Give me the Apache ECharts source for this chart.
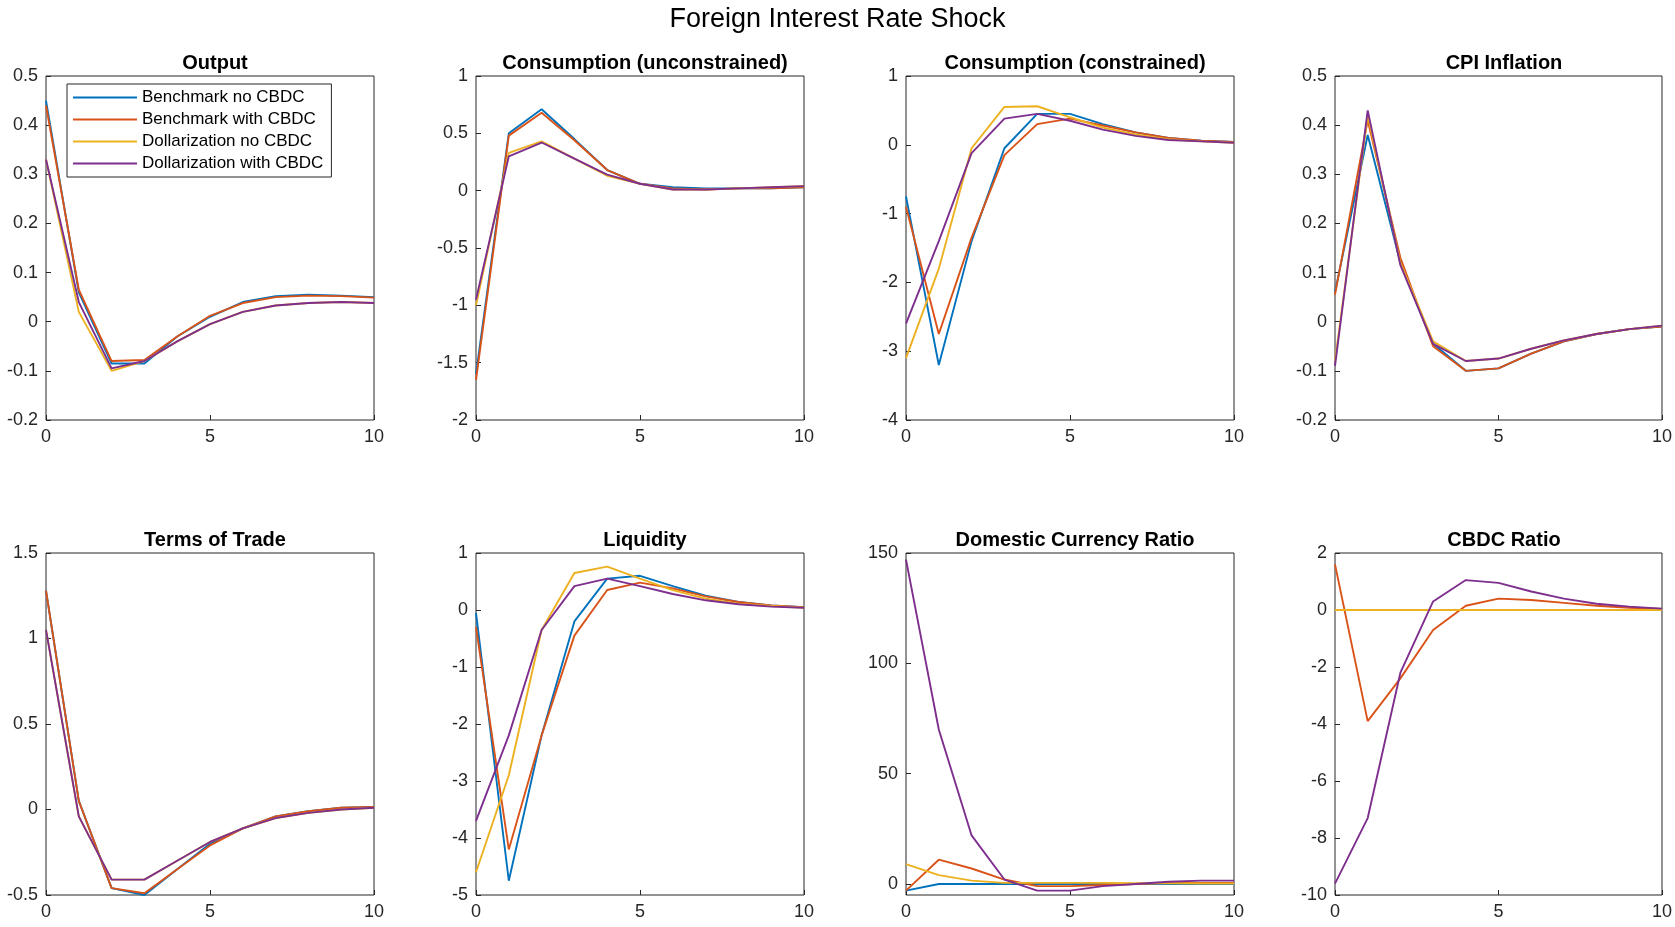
<!DOCTYPE html>
<html><head><meta charset="utf-8">
<script src="https://cdn.jsdelivr.net/npm/echarts@6/dist/echarts.min.js"></script>
<style>html,body{margin:0;background:#fff}#c{width:1675px;height:927px}</style>
</head><body><div id="c"></div>
<script>
const periods = [0,1,2,3,4,5,6,7,8,9,10];
const seriesNames = ["Benchmark no CBDC","Benchmark with CBDC","Dollarization no CBDC","Dollarization with CBDC"];
const colors = ["#0072BD","#D95319","#EDB120","#7E2F8E"];

const outputBN = [0.45,0.06,-0.085,-0.085,-0.03,0.01,0.04,0.052,0.055,0.053,0.05];
const outputBW = [0.44,0.065,-0.08,-0.078,-0.03,0.012,0.038,0.05,0.053,0.052,0.049];
const outputDN = [0.33,0.02,-0.1,-0.08,-0.04,-0.005,0.02,0.033,0.038,0.04,0.038];
const outputDW = [0.33,0.04,-0.095,-0.08,-0.04,-0.005,0.02,0.033,0.038,0.04,0.038];

const consUBN = [-1.6,0.5,0.71,0.45,0.18,0.06,0.03,0.02,0.02,0.02,0.03];
const consUBW = [-1.65,0.48,0.68,0.44,0.18,0.06,0.02,0.01,0.02,0.02,0.03];
const consUDN = [-1.0,0.33,0.43,0.28,0.13,0.06,0.01,0.01,0.02,0.03,0.04];
const consUDW = [-0.95,0.3,0.42,0.28,0.14,0.06,0.01,0.01,0.02,0.03,0.04];

const consCBN = [-0.75,-3.2,-1.4,-0.05,0.45,0.45,0.3,0.18,0.1,0.06,0.04];
const consCBW = [-0.9,-2.75,-1.35,-0.15,0.3,0.38,0.28,0.18,0.1,0.06,0.04];
const consCDN = [-3.1,-1.8,-0.05,0.55,0.56,0.4,0.25,0.15,0.08,0.05,0.03];
const consCDW = [-2.6,-1.4,-0.12,0.38,0.45,0.35,0.22,0.13,0.07,0.05,0.03];

const cpiBN = [0.06,0.38,0.12,-0.045,-0.1,-0.095,-0.065,-0.04,-0.025,-0.015,-0.01];
const cpiBW = [0.055,0.41,0.13,-0.05,-0.1,-0.095,-0.065,-0.04,-0.025,-0.015,-0.01];
const cpiDN = [-0.08,0.42,0.12,-0.04,-0.08,-0.075,-0.055,-0.038,-0.025,-0.015,-0.008];
const cpiDW = [-0.09,0.43,0.115,-0.045,-0.08,-0.075,-0.055,-0.038,-0.025,-0.015,-0.008];

const totBN = [1.28,0.05,-0.46,-0.5,-0.35,-0.2,-0.11,-0.04,-0.01,0.01,0.015];
const totBW = [1.28,0.05,-0.46,-0.49,-0.35,-0.21,-0.11,-0.04,-0.01,0.01,0.015];
const totDN = [1.05,-0.04,-0.41,-0.41,-0.3,-0.19,-0.11,-0.05,-0.02,0.0,0.01];
const totDW = [1.05,-0.04,-0.41,-0.41,-0.3,-0.19,-0.11,-0.05,-0.02,0.0,0.01];

const liqBN = [-0.05,-4.75,-2.2,-0.2,0.55,0.6,0.42,0.25,0.14,0.08,0.05];
const liqBW = [-0.3,-4.2,-2.2,-0.45,0.35,0.48,0.38,0.24,0.14,0.08,0.05];
const liqDN = [-4.6,-2.9,-0.35,0.65,0.76,0.55,0.35,0.2,0.11,0.07,0.04];
const liqDW = [-3.7,-2.2,-0.35,0.42,0.55,0.42,0.28,0.17,0.1,0.06,0.04];

const dcrBN = [-3,0,0,0,0,0,0,0,0,0,0];
const dcrBW = [-3,11,7,2,-1,-1,-0.5,0,0.5,0.5,0.5];
const dcrDN = [9,4,1.5,0.5,0.5,0.5,0.5,0.3,0.3,0.2,0.2];
const dcrDW = [147,70,22,2,-3,-3,-1,0,1,1.5,1.5];

const cbdcBN = [0,0,0,0,0,0,0,0,0,0,0];
const cbdcBW = [1.6,-3.9,-2.4,-0.7,0.15,0.4,0.35,0.25,0.15,0.08,0.04];
const cbdcDN = [0,0,0,0,0,0,0,0,0,0,0];
const cbdcDW = [-9.6,-7.3,-2.2,0.3,1.05,0.95,0.65,0.4,0.22,0.12,0.05];

const panels = [
  {title:"Output", min:-0.2, max:0.5, interval:0.1, data:[outputBN,outputBW,outputDN,outputDW]},
  {title:"Consumption (unconstrained)", min:-2, max:1, interval:0.5, data:[consUBN,consUBW,consUDN,consUDW]},
  {title:"Consumption (constrained)", min:-4, max:1, interval:1, data:[consCBN,consCBW,consCDN,consCDW]},
  {title:"CPI Inflation", min:-0.2, max:0.5, interval:0.1, data:[cpiBN,cpiBW,cpiDN,cpiDW]},
  {title:"Terms of Trade", min:-0.5, max:1.5, interval:0.5, data:[totBN,totBW,totDN,totDW]},
  {title:"Liquidity", min:-5, max:1, interval:1, data:[liqBN,liqBW,liqDN,liqDW]},
  {title:"Domestic Currency Ratio", min:-5, max:150, custom:[0,50,100,150], data:[dcrBN,dcrBW,dcrDN,dcrDW]},
  {title:"CBDC Ratio", min:-10, max:2, interval:2, data:[cbdcBN,cbdcBW,cbdcDN,cbdcDW]}
];

const lefts = [46,476,906,1335], w = 328;
const tops = [76,553], h = [344,342];
const font = "Helvetica, Arial, 'Liberation Sans', sans-serif";

const grid = [], xAxis = [], yAxis = [], series = [], title = [{
  text:"Foreign Interest Rate Shock", left:"center", top:1,
  textStyle:{fontSize:27, fontWeight:"normal", color:"#000", fontFamily:font}
}];

panels.forEach((p, i) => {
  const r = Math.floor(i/4), c = i%4;
  grid.push({left:lefts[c], top:tops[r], width:w, height:h[r], show:true, borderColor:"#262626", borderWidth:1, containLabel:false});
  title.push({text:p.title, left:lefts[c]+w/2, textAlign:"center", top:tops[r]-28,
    textStyle:{fontSize:20, fontWeight:"bold", color:"#000", fontFamily:font}});
  xAxis.push({type:"value", gridIndex:i, min:0, max:10, interval:5,
    axisLine:{show:false, onZero:false}, splitLine:{show:false},
    axisTick:{inside:true, length:5, lineStyle:{color:"#262626"}},
    axisLabel:{fontSize:18, color:"#262626", margin:8, fontFamily:font}});
  const y = {type:"value", gridIndex:i, min:p.min, max:p.max,
    axisLine:{show:false, onZero:false}, splitLine:{show:false},
    axisTick:{inside:true, length:5, lineStyle:{color:"#262626"}},
    axisLabel:{fontSize:18, color:"#262626", margin:8, fontFamily:font}};
  if (p.custom) {
    y.axisLabel.customValues = p.custom;
    y.axisTick.customValues = p.custom;
  } else {
    y.interval = p.interval;
  }
  yAxis.push(y);
  p.data.forEach((d, k) => {
    series.push({type:"line", name:seriesNames[k], xAxisIndex:i, yAxisIndex:i,
      data:periods.map((t, j) => [t, d[j]]), showSymbol:false, symbol:"none",
      lineStyle:{width:1.9, color:colors[k]}, itemStyle:{color:colors[k]}, animation:false});
  });
});

const chart = echarts.init(document.getElementById("c"));
chart.setOption({
  animation:false,
  color:colors,
  title, grid, xAxis, yAxis, series,
  legend:{data:seriesNames, orient:"vertical", left:67, top:84, itemWidth:64, itemHeight:2,
    itemGap:5, padding:[5,8,5,6], backgroundColor:"#fff", borderColor:"#262626", borderWidth:1,
    icon:"rect", textStyle:{fontSize:17, color:"#000", fontFamily:font}}
});
</script></body></html>
